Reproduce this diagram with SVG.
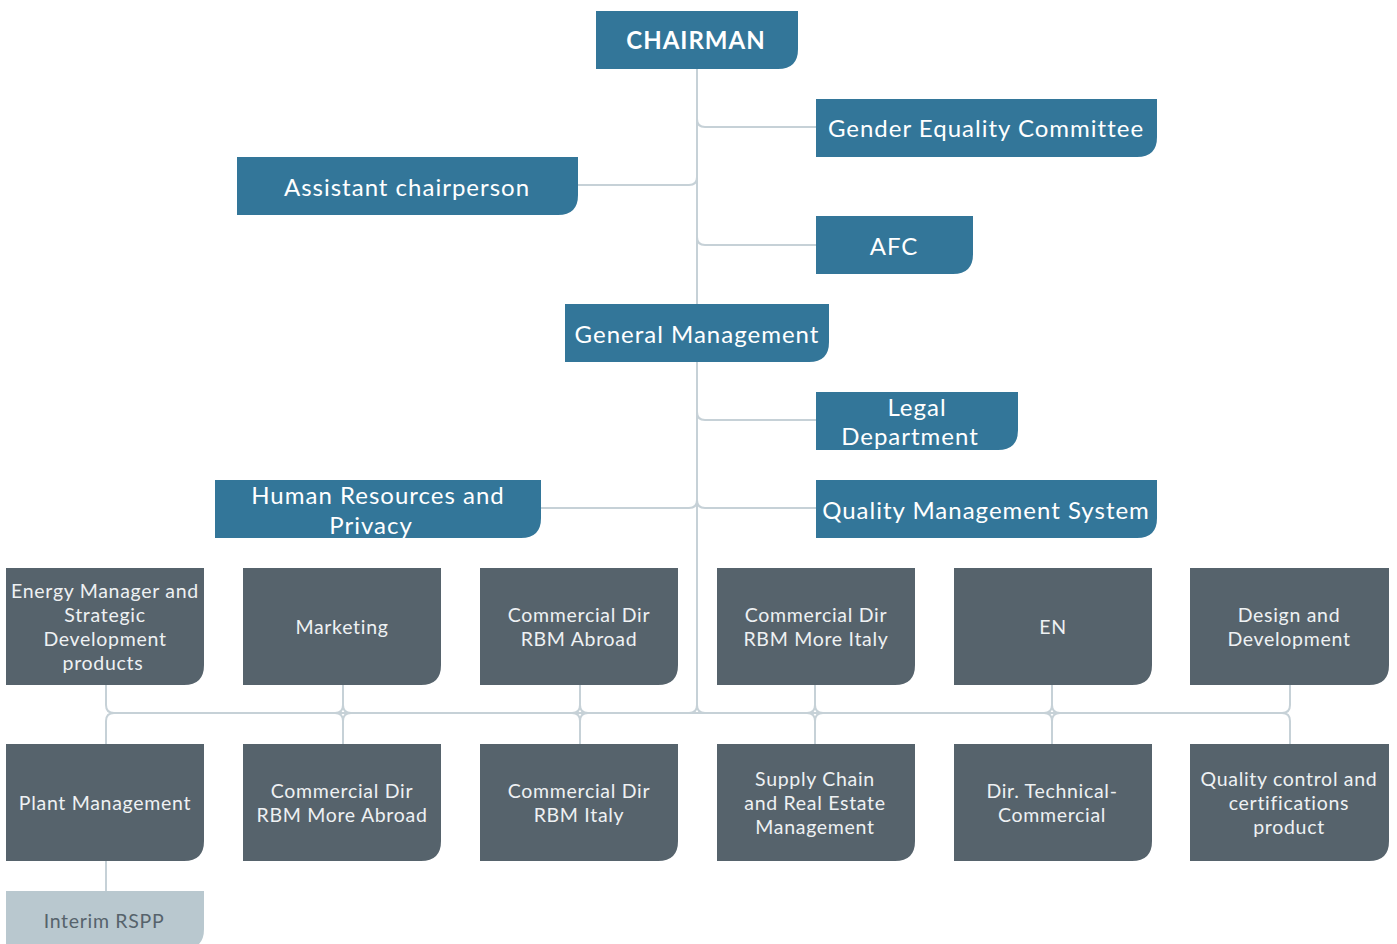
<svg xmlns="http://www.w3.org/2000/svg" width="1397" height="944" viewBox="0 0 1397 944">
<style>
.b{fill:#337699}
.g{fill:#56636c}
.l{fill:#b9c8cf}
.tb{font-family:Lato,"Open Sans",sans-serif;font-size:24px;fill:#ffffff;text-anchor:middle;letter-spacing:1px}
.tg{font-family:Lato,"Open Sans",sans-serif;font-size:19.5px;fill:#eef1f3;text-anchor:middle;letter-spacing:0.7px}
.tl{font-family:Lato,"Open Sans",sans-serif;font-size:19.5px;fill:#56636c;text-anchor:middle;letter-spacing:0.7px}
.c{fill:none;stroke:#c6d1d7;stroke-width:2}
</style>
<rect width="1397" height="944" fill="#ffffff"/>
<g id="connectors">
<path class="c" d="M697 69 V304"/>
<path class="c" d="M697 362 V705"/>
<path class="c" d="M697 119 Q697 127 705 127 H816"/>
<path class="c" d="M697 177 Q697 185 689 185 H578"/>
<path class="c" d="M697 237 Q697 245 705 245 H816"/>
<path class="c" d="M697 412 Q697 420 705 420 H816"/>
<path class="c" d="M697 500 Q697 508 689 508 H541"/>
<path class="c" d="M697 500 Q697 508 705 508 H816"/>
<path class="c" d="M114 713 H1282"/>
<path class="c" d="M697 705 Q697 713 689 713 M697 705 Q697 713 705 713"/>
<path class="c" d="M106 685 V705 Q106 713 114 713 M106 744 V721 Q106 713 114 713"/>
<path class="c" d="M343 685 V705 Q343 713 335 713 M343 705 Q343 713 351 713 M343 744 V721 Q343 713 335 713 M343 721 Q343 713 351 713"/>
<path class="c" d="M580 685 V705 Q580 713 572 713 M580 705 Q580 713 588 713 M580 744 V721 Q580 713 572 713 M580 721 Q580 713 588 713"/>
<path class="c" d="M815 685 V705 Q815 713 807 713 M815 705 Q815 713 823 713 M815 744 V721 Q815 713 807 713 M815 721 Q815 713 823 713"/>
<path class="c" d="M1052 685 V705 Q1052 713 1044 713 M1052 705 Q1052 713 1060 713 M1052 744 V721 Q1052 713 1044 713 M1052 721 Q1052 713 1060 713"/>
<path class="c" d="M1290 685 V705 Q1290 713 1282 713 M1290 744 V721 Q1290 713 1282 713"/>
<path class="c" d="M106 861 V891"/>
</g>
<g id="chairman"><path class="b" d="M596 11 H798 V49 Q798 69 778 69 H596 Z"/><text class="tb" x="696" y="49" font-weight="bold" letter-spacing="1.3">CHAIRMAN</text></g>
<g id="gender"><path class="b" d="M816 99 H1157 V137 Q1157 157 1137 157 H816 Z"/><text class="tb" x="986" y="137">Gender Equality Committee</text></g>
<g id="assistant"><path class="b" d="M237 157 H578 V195 Q578 215 558 215 H237 Z"/><text class="tb" x="407" y="196">Assistant chairperson</text></g>
<g id="afc"><path class="b" d="M816 216 H973 V254 Q973 274 953 274 H816 Z"/><text class="tb" x="894" y="255">AFC</text></g>
<g id="general"><path class="b" d="M565 304 H829 V342 Q829 362 809 362 H565 Z"/><text class="tb" x="697" y="343">General Management</text></g>
<g id="legal"><path class="b" d="M816 392 H1018 V430 Q1018 450 998 450 H816 Z"/><text class="tb" x="917" y="416">Legal</text><text class="tb" x="910" y="445">Department</text></g>
<g id="hr"><path class="b" d="M215 480 H541 V518 Q541 538 521 538 H215 Z"/><text class="tb" x="378" y="504">Human Resources and</text><text class="tb" x="371" y="534">Privacy</text></g>
<g id="qms"><path class="b" d="M816 480 H1157 V518 Q1157 538 1137 538 H816 Z"/><text class="tb" x="986" y="519">Quality Management System</text></g>
<g id="energy"><path class="g" d="M6 568 H204 V665 Q204 685 184 685 H6 Z"/><text class="tg" x="105" y="598">Energy Manager and</text><text class="tg" x="105" y="622">Strategic</text><text class="tg" x="105" y="646">Development</text><text class="tg" x="103" y="670">products</text></g>
<g id="marketing"><path class="g" d="M243 568 H441 V665 Q441 685 421 685 H243 Z"/><text class="tg" x="342" y="634">Marketing</text></g>
<g id="rbm-abroad"><path class="g" d="M480 568 H678 V665 Q678 685 658 685 H480 Z"/><text class="tg" x="579" y="622">Commercial Dir</text><text class="tg" x="579" y="646">RBM Abroad</text></g>
<g id="rbm-more-italy"><path class="g" d="M717 568 H915 V665 Q915 685 895 685 H717 Z"/><text class="tg" x="816" y="622">Commercial Dir</text><text class="tg" x="816" y="646">RBM More Italy</text></g>
<g id="en"><path class="g" d="M954 568 H1152 V665 Q1152 685 1132 685 H954 Z"/><text class="tg" x="1053" y="634">EN</text></g>
<g id="design"><path class="g" d="M1190 568 H1389 V665 Q1389 685 1369 685 H1190 Z"/><text class="tg" x="1289" y="622">Design and</text><text class="tg" x="1289" y="646">Development</text></g>
<g id="plant"><path class="g" d="M6 744 H204 V841 Q204 861 184 861 H6 Z"/><text class="tg" x="105" y="810">Plant Management</text></g>
<g id="rbm-more-abroad"><path class="g" d="M243 744 H441 V841 Q441 861 421 861 H243 Z"/><text class="tg" x="342" y="798">Commercial Dir</text><text class="tg" x="342" y="822">RBM More Abroad</text></g>
<g id="rbm-italy"><path class="g" d="M480 744 H678 V841 Q678 861 658 861 H480 Z"/><text class="tg" x="579" y="798">Commercial Dir</text><text class="tg" x="579" y="822">RBM Italy</text></g>
<g id="supply"><path class="g" d="M717 744 H915 V841 Q915 861 895 861 H717 Z"/><text class="tg" x="815" y="786">Supply Chain</text><text class="tg" x="815" y="810">and Real Estate</text><text class="tg" x="815" y="834">Management</text></g>
<g id="technical"><path class="g" d="M954 744 H1152 V841 Q1152 861 1132 861 H954 Z"/><text class="tg" x="1052" y="798">Dir. Technical-</text><text class="tg" x="1052" y="822">Commercial</text></g>
<g id="quality-control"><path class="g" d="M1190 744 H1389 V841 Q1389 861 1369 861 H1190 Z"/><text class="tg" x="1289" y="786">Quality control and</text><text class="tg" x="1289" y="810">certifications</text><text class="tg" x="1289" y="834">product</text></g>
<g id="rspp"><path class="l" d="M6 891 H204 V929 Q204 949 184 949 H6 Z"/><text class="tl" x="104" y="928">Interim RSPP</text></g>
</svg>
